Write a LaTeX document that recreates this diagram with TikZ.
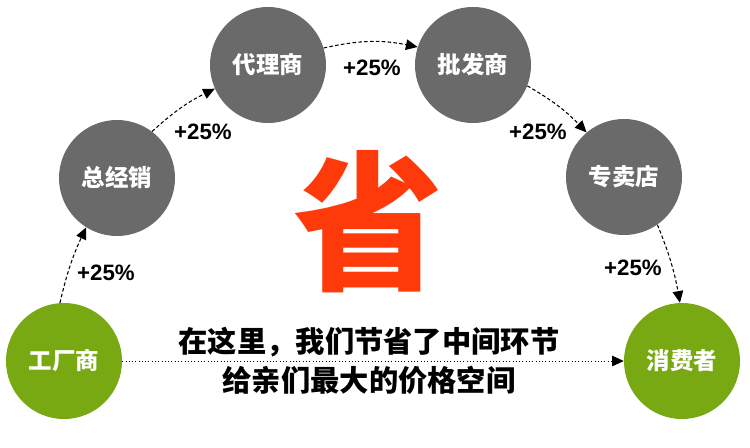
\documentclass[tikz,border=0pt]{standalone}
\usepackage{fontspec}
\setmainfont{Liberation Sans}
\newfontfamily\cjk{Noto Sans CJK SC}
\definecolor{leaf}{HTML}{78A912}
\definecolor{stone}{HTML}{6A6A6A}
\definecolor{flame}{HTML}{FF3A0A}
\usetikzlibrary{arrows.meta}

\begin{document}
\begin{tikzpicture}[x=0.03cm, y=-0.03cm,
  stage/.style={circle, fill=stone, minimum size=3.48cm, inner sep=0pt,
    text=white, font=\cjk\bfseries\fontsize{20}{24}\selectfont},
  ends/.style={stage, fill=leaf},
  hop/.style={line width=0.9pt, dash pattern=on 3pt off 2pt,
    -{Triangle[length=10pt, width=9pt]}},
  markup/.style={font=\bfseries\fontsize{19}{22}\selectfont}]
  \useasboundingbox (0,0) rectangle (750,448);

  % chain of middlemen
  \node[ends]  (factory)   at (64,361)  {工厂商};
  \node[stage] (dist)      at (117,178) {总经销};
  \node[stage] (agent)     at (268,65)  {代理商};
  \node[stage] (wholesale) at (473,65)  {批发商};
  \node[stage] (shop)      at (624,177) {专卖店};
  \node[ends]  (consumer)  at (682,361) {消费者};

  \draw[hop] (factory.94) to[bend left=6] (dist.238);
  \draw[hop] (dist.53) to[bend left=8] (agent.204);
  \draw[hop] (agent.17) to[bend left=12] (wholesale.162);
  \draw[hop] (wholesale.339) to[bend left=8] (shop.130);
  \draw[hop] (shop.305) to[bend left=6] (consumer.92);

  \node[markup] (m1) at (106,273) {+25\%};
  \node[markup] (m2) at (203,132) {+25\%};
  \node[markup] (m3) at (372,68)  {+25\%};
  \node[markup] (m4) at (538,132) {+25\%};
  \node[markup] (m5) at (633,268) {+25\%};

  % direct route
  \draw[line width=0.8pt, dotted, -{Triangle[length=10pt, width=9pt]}]
    (factory.east) -- (consumer.west);

  \node[text=flame, font=\cjk\bfseries\fontsize{128}{128}\selectfont]
    (save) at (368,222) {省};
  \node[align=center, font=\cjk\bfseries\fontsize{25}{33}\selectfont]
    (slogan) at (369,361) {在这里，我们节省了中间环节\\给亲们最大的价格空间};
\end{tikzpicture}
\end{document}
